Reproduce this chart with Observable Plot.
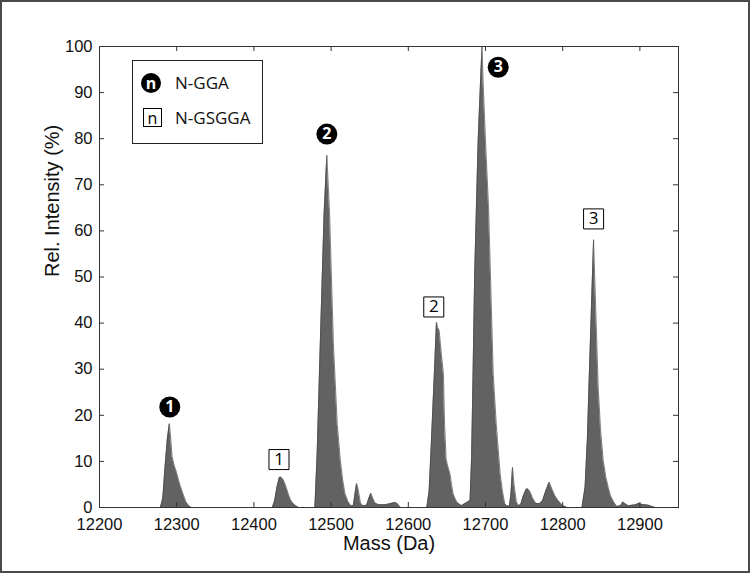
<!DOCTYPE html>
<html>
<head>
<meta charset="utf-8">
<script src="https://cdn.jsdelivr.net/npm/d3@7"></script>
<script src="https://cdn.jsdelivr.net/npm/@observablehq/plot@0.6"></script>
<style>
  body { margin: 0; background: #fff; }
  #wrap { position: relative; width: 750px; height: 573px; overflow: hidden; }
  #border { position: absolute; left: 0; top: 0; width: 750px; height: 573px; box-sizing: border-box; border: 2px solid #4a4a4a; pointer-events: none; }
  #legend { position: absolute; left: 132px; top: 60px; width: 131px; height: 84px; box-sizing: border-box; border: 1px solid #222; background: #fff; font-family: "Open Sans", "Noto Sans", sans-serif; font-size: 17px; color: #111; }
  .item { position: absolute; left: 0; height: 22px; width: 100%; }
  .mk { position: absolute; left: 8px; top: 0; width: 20px; height: 20px; box-sizing: border-box; display: flex; align-items: center; justify-content: center; font-size: 16px; line-height: 1; }
  .mk.c { background: #000; color: #fff; border-radius: 50%; font-weight: 700; }
  .mk.s { background: #fff; color: #000; border: 1px solid #000; left: 10px; width: 19px; height: 19px; }
  .lbl { position: absolute; left: 42px; top: -1px; line-height: 22px; }
</style>
</head>
<body>
<div id="wrap">
  <div id="chart"></div>
  <div id="legend"></div>
  <div id="border"></div>
</div>
<script>
// ---- data ----
const mass = [
  12200, 12279, 12282, 12285, 12288, 12290.5, 12292, 12294, 12297, 12300, 12304, 12308, 12312, 12316, 12319,
  12424, 12427, 12430, 12433, 12435, 12438, 12441, 12444, 12447, 12450, 12454, 12458,
  12479, 12482, 12486, 12491, 12494.5, 12498, 12503, 12508, 12512, 12515, 12518, 12522, 12526,
  12529, 12531, 12533, 12535, 12538, 12541, 12546, 12549, 12551.5, 12554, 12557, 12562, 12570, 12576, 12580, 12583, 12586, 12590,
  12624, 12627, 12630, 12634, 12636.5, 12638, 12640, 12643, 12645.5, 12647, 12649, 12651, 12654, 12656, 12658, 12661, 12663, 12669, 12673, 12677,
  12680, 12682, 12684, 12686, 12690.5, 12693, 12695.5, 12697, 12700, 12704, 12707, 12710, 12714, 12719, 12722, 12725, 12728,
  12731, 12733, 12735, 12737, 12740, 12743, 12746, 12749, 12753, 12755, 12758, 12761, 12765, 12770, 12774, 12778, 12782.5, 12786, 12790, 12794, 12800, 12806,
  12825, 12829, 12832, 12834, 12837, 12840, 12843, 12846, 12849, 12852.5, 12856, 12859, 12862, 12866, 12870, 12875, 12878, 12881, 12885, 12890, 12895, 12898, 12902, 12906, 12911, 12916, 12920, 12950
];
const intensity = [
  0, 0, 2, 9, 15, 18.2, 15.5, 11, 9, 7.5, 5, 3, 1.2, 0.3, 0,
  0, 1.5, 4.5, 6.5, 6.6, 6, 4.8, 3.2, 1.8, 1, 0.4, 0,
  0, 12, 35.5, 64, 76.4, 64, 35.5, 18, 10.2, 6, 3, 1.2, 0.3,
  0.5, 3, 5.2, 4, 1, 0.4, 0.5, 2, 3.1, 2, 0.9, 0.6, 0.6, 0.8, 1, 1.1, 0.8, 0,
  0, 3.6, 14.5, 30, 40.2, 39, 38.4, 33, 29, 18, 10.5, 9, 7.3, 5, 3, 1.8, 1.1, 0.4, 0.8, 1.2,
  1.5, 10.9, 30, 50.7, 79.6, 90, 100, 92, 79.6, 65, 47, 29, 18, 7.3, 3.5, 0.8, 0.3,
  0.3, 3, 8.7, 5, 1.2, 0.3, 0.8, 2.5, 4, 4, 3.3, 2, 0.9, 0.8, 1.5, 3.5, 5.5, 4, 2.5, 1.5, 0.4, 0,
  0, 4.4, 15, 26.1, 42, 58.1, 42, 26.1, 17, 10.2, 6.5, 4.4, 2.5, 1.2, 0.2, 0.4, 1.2, 0.8, 0.4, 0.5, 0.6, 0.9, 0.7, 0.6, 0.5, 0.2, 0, 0
];
const xTicks = [12200, 12300, 12400, 12500, 12600, 12700, 12800, 12900];
const yTicks = [0, 10, 20, 30, 40, 50, 60, 70, 80, 90, 100];
const ggaMass = [12291, 12494.5, 12716.5];
const ggaIntensity = [21.8, 81, 95.5];
const gsggaMass = [12432.5, 12633, 12840];
const gsggaIntensity = [10.4, 43.5, 62.6];
const peakLabels = ["1", "2", "3"];
const legendNames = ["N-GGA", "N-GSGGA"];
const legendSymbols = ["n", "n"];
const xLabel = "Mass (Da)";
const yLabel = "Rel. Intensity (%)";

// ---- build tables ----
const spectrum = mass.map((m, i) => ({mass: m, intensity: intensity[i]}));
const gga = ggaMass.map((m, i) => ({mass: m, intensity: ggaIntensity[i], label: peakLabels[i]}));
const gsgga = gsggaMass.map((m, i) => ({mass: m, intensity: gsggaIntensity[i], label: peakLabels[i]}));

const W = 750, H = 573, mL = 99, mR = 72, mT = 46, mB = 66;
const innerW = W - mL - mR, innerH = H - mT - mB;
const sans = "Arial, 'Liberation Sans', sans-serif";
const ui = "'Open Sans', 'Noto Sans', sans-serif";

const chart = Plot.plot({
  width: W, height: H,
  marginLeft: mL, marginRight: mR, marginTop: mT, marginBottom: mB,
  x: {domain: [12200, 12950]},
  y: {domain: [0, 100]},
  style: {fontFamily: sans, fontSize: "16px", background: "transparent", color: "#111"},
  marks: [
    Plot.areaY(spectrum, {x: "mass", y: "intensity", fill: "#626262", curve: "linear"}),
    Plot.lineY(spectrum, {x: "mass", y: "intensity", stroke: "#474747", strokeWidth: 0.7, curve: "linear"}),
    Plot.frame({stroke: "#333", strokeWidth: 1}),
    Plot.tickX(xTicks, {x: d => d, insetTop: innerH - 5, stroke: "#333"}),
    Plot.tickX(xTicks, {x: d => d, insetBottom: innerH - 5, stroke: "#333"}),
    Plot.tickY(yTicks, {y: d => d, insetRight: innerW - 5, stroke: "#333"}),
    Plot.tickY(yTicks, {y: d => d, insetLeft: innerW - 5, stroke: "#333"}),
    Plot.axisX(xTicks, {tickSize: 0, tickPadding: 11, tickFormat: d => String(d), fontSize: 16.5, label: null}),
    Plot.axisY(yTicks, {tickSize: 0, tickPadding: 7, tickFormat: d => String(d), fontSize: 16.5, label: null}),
    Plot.text([xLabel], {text: d => d, frameAnchor: "bottom", dy: 42, fontSize: 20, fill: "#111"}),
    Plot.text([yLabel], {text: d => d, frameAnchor: "left", dx: -47, rotate: -90, fontSize: 20, fill: "#111"}),
    Plot.dot(gga, {x: "mass", y: "intensity", r: 10.5, fill: "#000", stroke: "none"}),
    Plot.text(gga, {x: "mass", y: "intensity", text: "label", fill: "#fff", fontWeight: "bold", fontSize: 16, fontFamily: ui}),
    Plot.dot(gsgga, {x: "mass", y: "intensity", symbol: "square", r: 11.3, fill: "#fff", stroke: "#000", strokeWidth: 1}),
    Plot.text(gsgga, {x: "mass", y: "intensity", text: "label", fill: "#000", fontSize: 17, fontFamily: ui})
  ]
});
document.getElementById("chart").appendChild(chart);

// ---- legend ----
const legend = document.getElementById("legend");
legendNames.forEach((name, i) => {
  const item = document.createElement("div");
  item.className = "item";
  item.style.top = (i === 0 ? 12 : 47) + "px";
  const mk = document.createElement("div");
  mk.className = "mk " + (i === 0 ? "c" : "s");
  mk.textContent = legendSymbols[i];
  const lbl = document.createElement("div");
  lbl.className = "lbl";
  lbl.textContent = name;
  item.appendChild(mk);
  item.appendChild(lbl);
  legend.appendChild(item);
});
</script>
</body>
</html>
